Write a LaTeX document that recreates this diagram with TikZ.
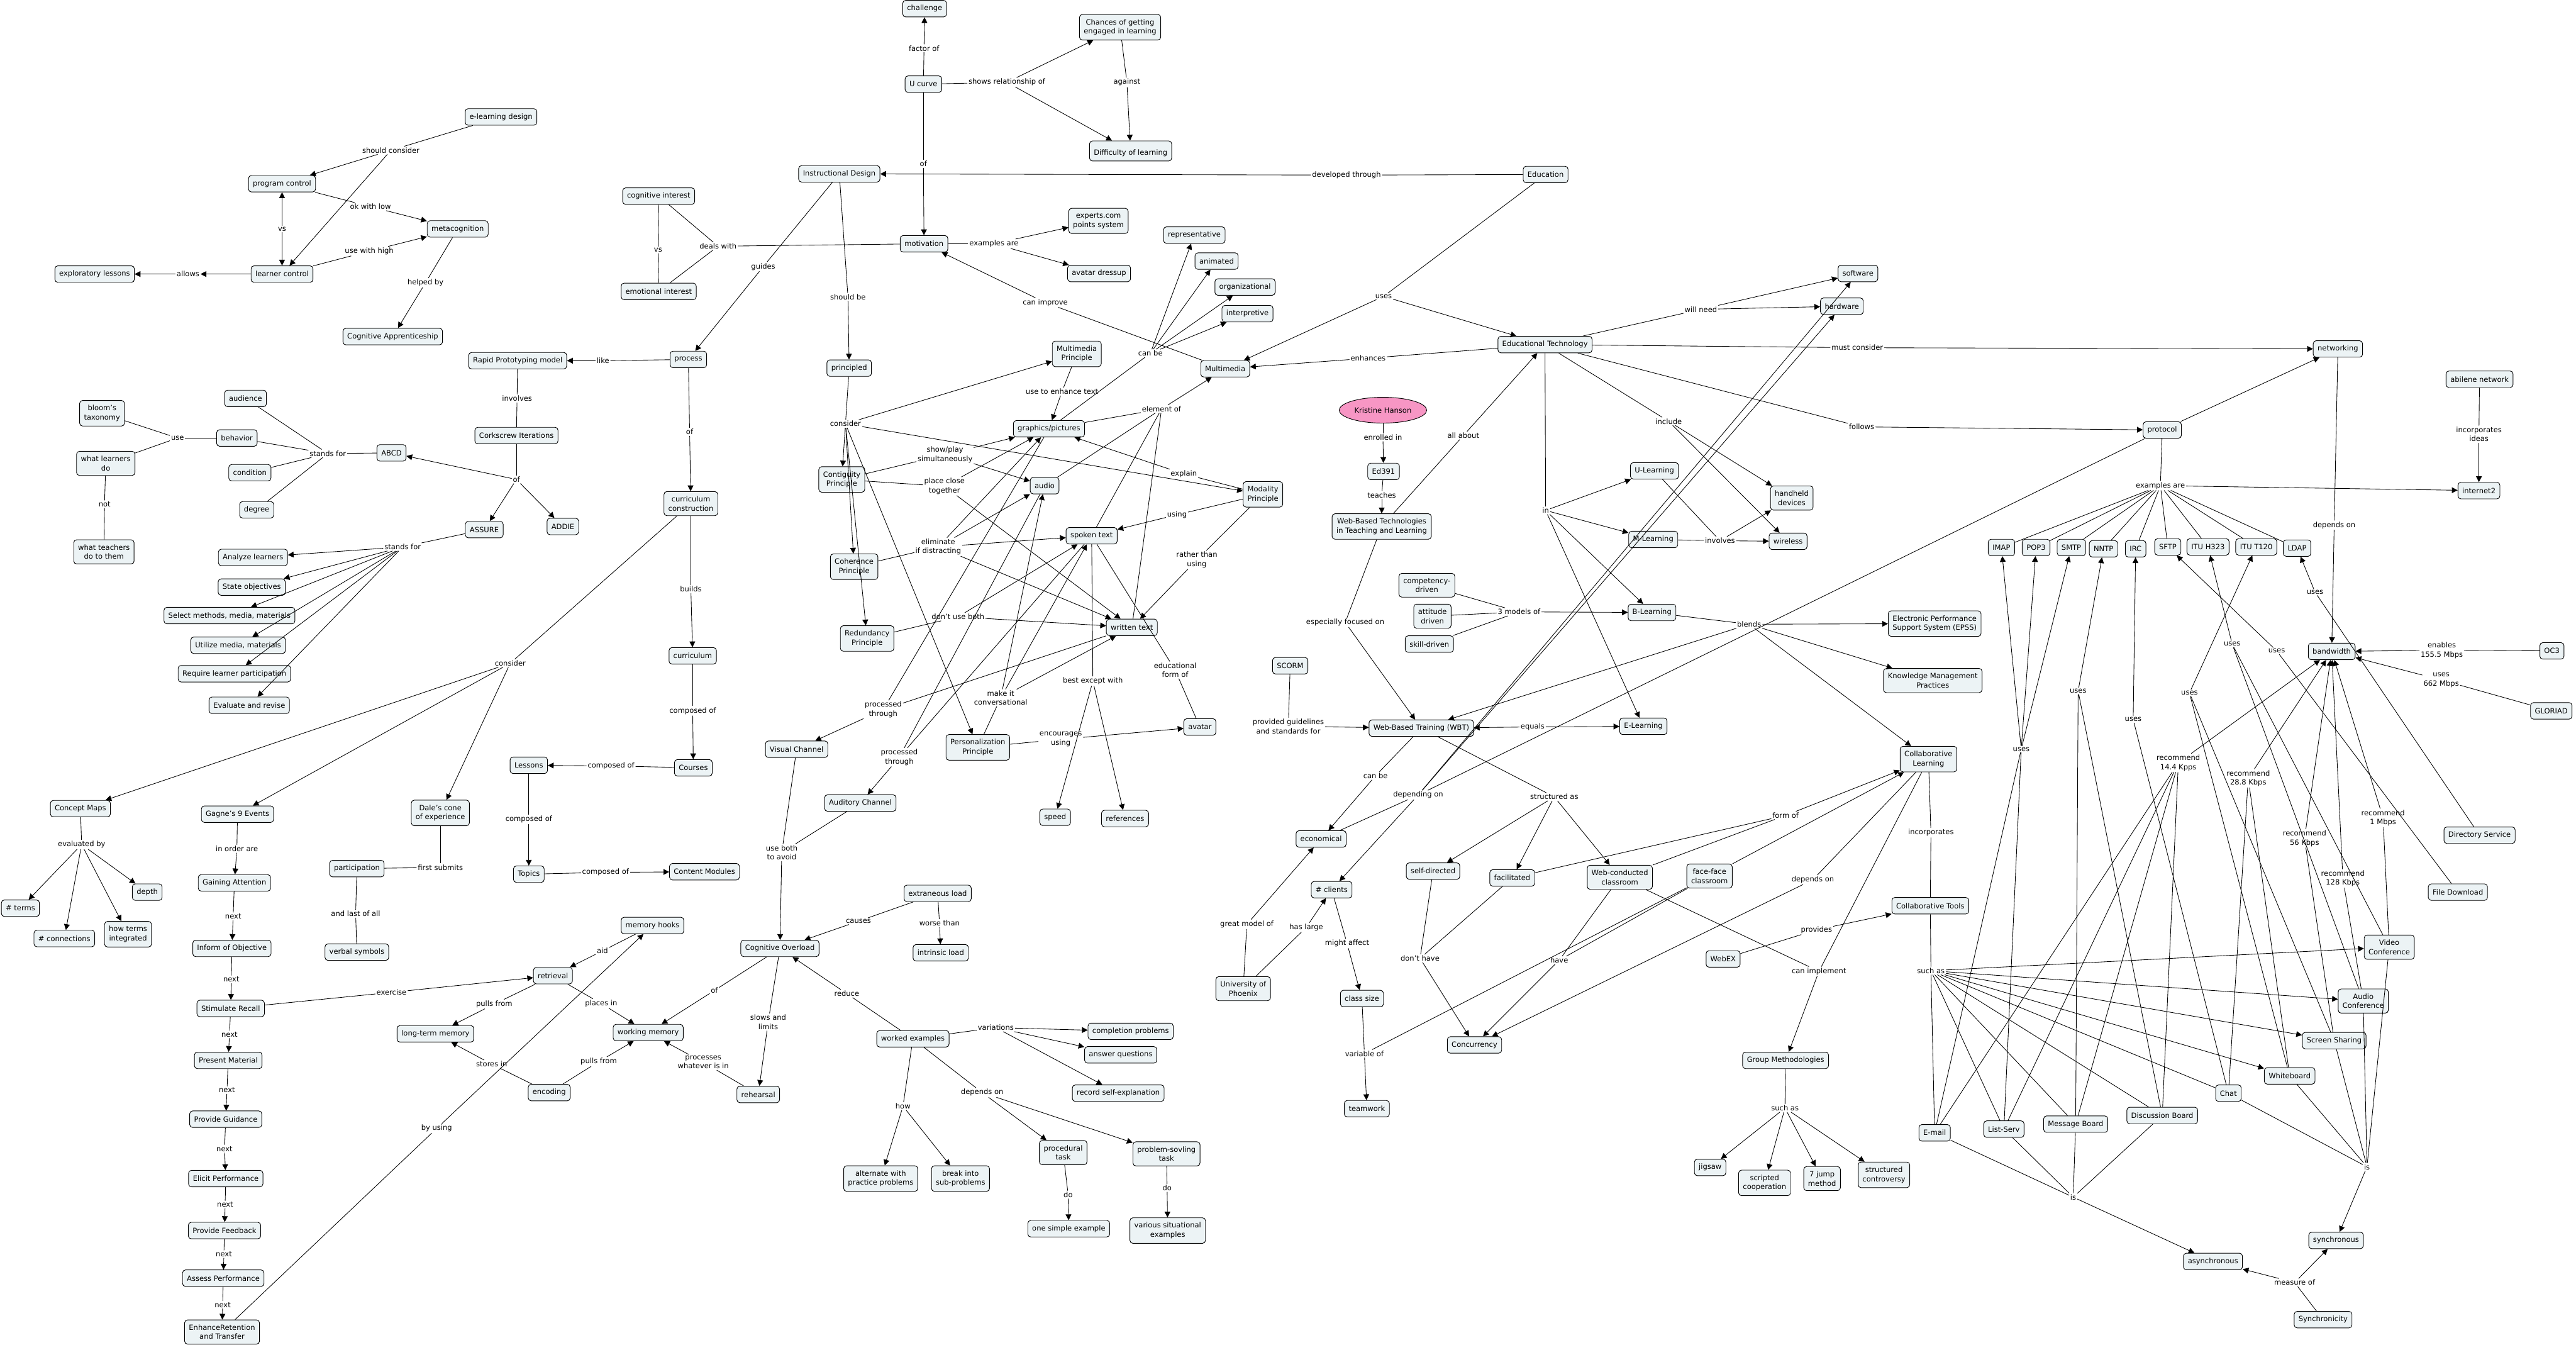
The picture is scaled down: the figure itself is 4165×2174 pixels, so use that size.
\documentclass[tikz,border=0pt]{standalone}
\usepackage{fontspec}
\setmainfont{DejaVu Sans}
\usepackage{tikz}
\usetikzlibrary{arrows.meta,shapes.geometric}
\definecolor{cfill}{RGB}{236,243,245}
\definecolor{cpink}{RGB}{247,150,196}

\begin{document}
\begin{tikzpicture}[
x=0.03cm,
y=-0.03cm,
every node/.style={font=\fontsize{10}{12.6}\selectfont},
cconcept/.style={rectangle,rounded corners=4pt,draw,line width=0.8pt,fill=cfill,align=center,inner xsep=6pt,inner ysep=6.5pt,minimum height=0.8cm},
cperson/.style={ellipse,draw,line width=0.8pt,fill=cpink,minimum width=3.3cm,minimum height=1.25cm},
clink/.style={align=center,inner sep=1.5pt},
cline/.style={draw,line width=0.75pt},
carrow/.style={cline,-{Triangle[length=8pt,width=8pt]}}
]
\useasboundingbox (0,0) rectangle (4165,2174);

\node[cconcept] (challenge) at (1495,14) {challenge};
\node[cconcept] (chances) at (1811,44) {Chances of getting\\engaged in learning};
\node[cconcept] (ucurve) at (1493,136) {U curve};
\node[cconcept] (difficulty) at (1828,244) {\mbox{}\\Difficulty of learning};
\node[cconcept] (instr) at (1357,281) {Instructional Design};
\node[cconcept] (education) at (2499,282) {Education};
\node[cconcept] (elearndesign) at (810,189) {e-learning design};
\node[cconcept] (progctrl) at (456,297) {program control};
\node[cconcept] (metacog) at (740,370) {metacognition};
\node[cconcept] (learnctrl) at (456,443) {learner control};
\node[cconcept] (explor) at (153,443) {exploratory lessons};
\node[cconcept] (cogapp) at (635,544) {Cognitive Apprenticeship};
\node[cconcept] (coginterest) at (1065,317) {cognitive interest};
\node[cconcept] (emointerest) at (1065,471) {emotional interest};
\node[cconcept] (motivation) at (1494,394) {motivation};
\node[cconcept] (experts) at (1776,357) {experts.com\\points system};
\node[cconcept] (avatardress) at (1777,442) {avatar dressup};
\node[cconcept] (represent) at (1931,380) {representative};
\node[cconcept] (animated) at (1967,422) {animated};
\node[cconcept] (organiz) at (2013,464) {organizational};
\node[cconcept] (interpret) at (2017,507) {interpretive};
\node[cconcept] (multimedia) at (1981,596) {Multimedia};
\node[cconcept] (mmprinciple) at (1741,572) {Multimedia\\Principle};
\node[cconcept] (software) at (3004,442) {software};
\node[cconcept] (hardware) at (2978,495) {hardware};
\node[cconcept] (edtech) at (2498,557) {Educational Technology};
\node[cconcept] (networking) at (3780,564) {networking};
\node[cconcept] (abilene) at (4009,613) {abilene network};
\node[cconcept] (protocol) at (3496,695) {protocol};
\node[cconcept] (internet2) at (4008,793) {internet2};
\node[cconcept] (rapid) at (837,583) {Rapid Prototyping model};
\node[cconcept] (process) at (1113,581) {process};
\node[cconcept] (principled) at (1373,595) {principled};
\node[cconcept] (corkscrew) at (835,704) {Corkscrew Iterations};
\node[cconcept] (graphics) at (1696,693) {graphics/pictures};
\node[cperson] (kristine) at (2236,663) {Kristine Hanson};
\node[cconcept] (bloom) at (165,668) {bloom's\\taxonomy};
\node[cconcept] (audience) at (397,644) {audience};
\node[cconcept] (behavior) at (383,708) {behavior};
\node[cconcept] (abcd) at (633,732) {ABCD};
\node[cconcept] (wlearners) at (171,749) {what learners\\do};
\node[cconcept] (condition) at (404,764) {condition};
\node[cconcept] (degree) at (415,824) {degree};
\node[cconcept] (assure) at (783,856) {ASSURE};
\node[cconcept] (addie) at (910,851) {ADDIE};
\node[cconcept] (wteachers) at (168,892) {what teachers\\do to them};
\node[cconcept] (analyze) at (409,901) {Analyze learners};
\node[cconcept] (stateobj) at (407,949) {State objectives};
\node[cconcept] (selectm) at (371,995) {Select methods, media, materials};
\node[cconcept] (utilize) at (385,1043) {Utilize media, materials};
\node[cconcept] (require) at (379,1089) {Require learner participation};
\node[cconcept] (evaluate) at (403,1140) {Evaluate and revise};
\node[cconcept] (contiguity) at (1361,775) {Contiguity\\Principle};
\node[cconcept] (audio) at (1689,785) {audio};
\node[cconcept] (modality) at (2042,799) {Modality\\Principle};
\node[cconcept] (currcons) at (1117,814) {curriculum\\construction};
\node[cconcept] (spoken) at (1765,866) {spoken text};
\node[cconcept] (coherence) at (1381,916) {Coherence\\Principle};
\node[cconcept] (written) at (1830,1014) {written text};
\node[cconcept] (redundancy) at (1402,1032) {Redundancy\\Principle};
\node[cconcept] (curriculum) at (1120,1060) {curriculum};
\node[cconcept] (avatar) at (1940,1175) {avatar};
\node[cconcept] (personal) at (1581,1208) {Personalization\\Principle};
\node[cconcept] (visual) at (1288,1211) {Visual Channel};
\node[cconcept] (courses) at (1121,1241) {Courses};
\node[cconcept] (auditory) at (1391,1298) {Auditory Channel};
\node[cconcept] (speed) at (1706,1321) {speed};
\node[cconcept] (references) at (1819,1323) {references};
\node[cconcept] (contentmod) at (1139,1409) {Content Modules};
\node[cconcept] (lessons) at (855,1237) {Lessons};
\node[cconcept] (conceptmaps) at (130,1307) {Concept Maps};
\node[cconcept] (gagne) at (384,1316) {Gagne's 9 Events};
\node[cconcept] (dale) at (712,1314) {Dale's cone\\of experience};
\node[cconcept] (participation) at (577,1404) {participation};
\node[cconcept] (topics) at (855,1413) {Topics};
\node[cconcept] (gaining) at (379,1427) {Gaining Attention};
\node[cconcept] (depth) at (238,1442) {depth};
\node[cconcept] (nterms) at (33,1468) {\# terms};
\node[cconcept] (nconn) at (104,1517) {\# connections};
\node[cconcept] (howterms) at (207,1510) {how terms\\integrated};
\node[cconcept] (verbal) at (577,1539) {verbal symbols};
\node[cconcept] (inform) at (375,1533) {Inform of Objective};
\node[cconcept] (memhooks) at (1055,1496) {memory hooks};
\node[cconcept] (retrieval) at (894,1577) {retrieval};
\node[cconcept] (stimulate) at (373,1630) {Stimulate Recall};
\node[cconcept] (ltm) at (704,1671) {long-term memory};
\node[cconcept] (workmem) at (1048,1669) {working memory};
\node[cconcept] (present) at (369,1714) {Present Material};
\node[cconcept] (encoding) at (888,1766) {encoding};
\node[cconcept] (guidance) at (365,1809) {Provide Guidance};
\node[cconcept] (elicit) at (365,1905) {Elicit Performance};
\node[cconcept] (feedback) at (363,1989) {Provide Feedback};
\node[cconcept] (assess) at (361,2066) {Assess Performance};
\node[cconcept] (enhance) at (359,2153) {EnhanceRetention\\and Transfer};
\node[cconcept] (cogover) at (1261,1533) {Cognitive Overload};
\node[cconcept] (extraneous) at (1516,1444) {extraneous load};
\node[cconcept] (intrinsic) at (1521,1540) {intrinsic load};
\node[cconcept] (uphoenix) at (2010,1598) {University of\\Phoenix};
\node[cconcept] (rehearsal) at (1226,1769) {rehearsal};
\node[cconcept] (worked) at (1476,1679) {worked examples};
\node[cconcept] (completion) at (1828,1667) {completion problems};
\node[cconcept] (answer) at (1812,1705) {answer questions};
\node[cconcept] (record) at (1808,1767) {record self-explanation};
\node[cconcept] (procedural) at (1719,1863) {procedural\\task};
\node[cconcept] (problemsolv) at (1886,1865) {problem-sovling\\task};
\node[cconcept] (alternate) at (1424,1905) {alternate with\\practice problems};
\node[cconcept] (breakinto) at (1553,1905) {break into\\sub-problems};
\node[cconcept] (onesimple) at (1728,1986) {one simple example};
\node[cconcept] (various) at (1888,1989) {various situational\\examples};
\node[cconcept] (ed391) at (2237,762) {Ed391};
\node[cconcept] (ulearn) at (2675,761) {U-Learning};
\node[cconcept] (handheld) at (2897,805) {handheld\\devices};
\node[cconcept] (wbtech) at (2234,851) {Web-Based Technologies\\in Teaching and Learning};
\node[cconcept] (mlearn) at (2673,872) {M-Learning};
\node[cconcept] (wireless) at (2891,875) {wireless};
\node[cconcept] (competency) at (2307,946) {competency-\\driven};
\node[cconcept] (attitude) at (2316,996) {attitude\\driven};
\node[cconcept] (blearn) at (2671,990) {B-Learning};
\node[cconcept] (epss) at (3128,1008) {Electronic Performance\\Support System (EPSS)};
\node[cconcept] (skill) at (2311,1041) {skill-driven};
\node[cconcept] (scorm) at (2086,1076) {SCORM};
\node[cconcept] (wbt) at (2298,1177) {Web-Based Training (WBT)};
\node[cconcept] (elearning) at (2657,1174) {E-Learning};
\node[cconcept] (km) at (3125,1100) {Knowledge Management\\Practices};
\node[cconcept] (collab) at (3118,1227) {Collaborative\\Learning};
\node[cconcept] (economical) at (2136,1356) {economical};
\node[cconcept] (selfdir) at (2317,1408) {self-directed};
\node[cconcept] (facilitated) at (2445,1419) {facilitated};
\node[cconcept] (webcond) at (2619,1418) {Web-conducted\\classroom};
\node[cconcept] (facetoface) at (2764,1416) {face-face\\classroom};
\node[cconcept] (nclients) at (2153,1438) {\# clients};
\node[cconcept] (classsize) at (2202,1614) {class size};
\node[cconcept] (teamwork) at (2210,1792) {teamwork};
\node[cconcept] (concurrency) at (2384,1689) {Concurrency};
\node[cconcept] (webex) at (2786,1550) {WebEX};
\node[cconcept] (groupmeth) at (2887,1714) {Group Methodologies};
\node[cconcept] (jigsaw) at (2765,1887) {jigsaw};
\node[cconcept] (scripted) at (2853,1912) {scripted\\cooperation};
\node[cconcept] (sevenjump) at (2946,1905) {7 jump\\method};
\node[cconcept] (structured) at (3046,1899) {structured\\controversy};
\node[cconcept] (imap) at (3236,885) {IMAP};
\node[cconcept] (pop3) at (3292,885) {POP3};
\node[cconcept] (smtp) at (3349,885) {SMTP};
\node[cconcept] (nntp) at (3401,887) {NNTP};
\node[cconcept] (irc) at (3453,887) {IRC};
\node[cconcept] (sftp) at (3505,884) {SFTP};
\node[cconcept] (ituh) at (3570,884) {ITU H323};
\node[cconcept] (itut) at (3648,884) {ITU T120};
\node[cconcept] (ldap) at (3714,886) {LDAP};
\node[cconcept] (bandwidth) at (3770,1053) {bandwidth};
\node[cconcept] (oc3) at (4126,1052) {OC3};
\node[cconcept] (gloriad) at (4125,1149) {GLORIAD};
\node[cconcept] (dirservice) at (4009,1350) {Directory Service};
\node[cconcept] (filedl) at (3974,1442) {File Download};
\node[cconcept] (collabtools) at (3121,1464) {Collaborative Tools};
\node[cconcept] (videoconf) at (3863,1531) {Video\\Conference};
\node[cconcept] (audioconf) at (3821,1618) {Audio\\Conference};
\node[cconcept] (screenshare) at (3774,1682) {Screen Sharing};
\node[cconcept] (whiteboard) at (3702,1739) {Whiteboard};
\node[cconcept] (chat) at (3603,1767) {Chat};
\node[cconcept] (discussion) at (3496,1803) {Discussion Board};
\node[cconcept] (msgboard) at (3356,1817) {Message Board};
\node[cconcept] (listserv) at (3240,1825) {List-Serv};
\node[cconcept] (email) at (3128,1831) {E-mail};
\node[cconcept] (synchronous) at (3777,2005) {synchronous};
\node[cconcept] (asynchronous) at (3578,2039) {asynchronous};
\node[cconcept] (synchronicity) at (3756,2133) {Synchronicity};

\node[clink] (lfactor) at (1494,78) {factor of};
\node[clink] (lshows) at (1628,133) {shows relationship of};
\node[clink] (lagainst) at (1822,133) {against};
\node[clink] (lof1) at (1493,265) {of};
\node[clink] (ldevel) at (2177,283) {developed through};
\node[clink] (lshould) at (632,243) {should consider};
\node[clink] (lokwith) at (599,334) {ok with low};
\node[clink] (lvs1) at (456,370) {vs};
\node[clink] (lusewith) at (597,406) {use with high};
\node[clink] (lallows) at (304,443) {allows};
\node[clink] (lhelped) at (688,457) {helped by};
\node[clink] (llike) at (975,583) {like};
\node[clink] (linvolves1) at (836,644) {involves};
\node[clink] (lvs2) at (1064,404) {vs};
\node[clink] (ldeals) at (1161,398) {deals with};
\node[clink] (lguides) at (1234,431) {guides};
\node[clink] (lexamples1) at (1607,394) {examples are};
\node[clink] (lshouldbe) at (1371,480) {should be};
\node[clink] (lcanimprove) at (1690,489) {can improve};
\node[clink] (lcanbe1) at (1860,571) {can be};
\node[clink] (lenhtext) at (1717,633) {use to enhance text};
\node[clink] (lconsider1) at (1367,685) {consider};
\node[clink] (lelement) at (1878,661) {element of};
\node[clink] (lof2) at (1115,698) {of};
\node[clink] (luses1) at (2237,479) {uses};
\node[clink] (lwillneed) at (2750,500) {will need};
\node[clink] (lenhances) at (2212,579) {enhances};
\node[clink] (lmustcons) at (3003,562) {must consider};
\node[clink] (linclude) at (2698,681) {include};
\node[clink] (lfollows) at (3010,690) {follows};
\node[clink] (lallabout) at (2366,704) {all about};
\node[clink] (lenrolled) at (2236,707) {enrolled in};
\node[clink] (lincorp1) at (4008,702) {incorporates\\ideas};
\node[clink] (luse) at (287,708) {use};
\node[clink] (lstands1) at (530,733) {stands for};
\node[clink] (lnot) at (169,815) {not};
\node[clink] (lof3) at (835,775) {of};
\node[clink] (lstands2) at (651,884) {stands for};
\node[clink] (lconsider2) at (825,1072) {consider};
\node[clink] (lcomp1) at (988,1238) {composed of};
\node[clink] (lcomp2) at (855,1324) {composed of};
\node[clink] (lcomp3) at (979,1410) {composed of};
\node[clink] (levaluated) at (132,1365) {evaluated by};
\node[clink] (linorder) at (383,1372) {in order are};
\node[clink] (lfirst) at (712,1402) {first submits};
\node[clink] (llast) at (575,1477) {and last of all};
\node[clink] (lshowplay) at (1528,735) {show/play\\simultaneously};
\node[clink] (lplace) at (1527,786) {place close\\together};
\node[clink] (lexplain) at (1914,766) {explain};
\node[clink] (lusing) at (1903,832) {using};
\node[clink] (leliminate) at (1517,884) {eliminate\\if distracting};
\node[clink] (lrather) at (1935,905) {rather than\\using};
\node[clink] (lbuilds) at (1117,952) {builds};
\node[clink] (ldontuse) at (1549,997) {don't use both};
\node[clink] (leduform) at (1900,1083) {educational\\form of};
\node[clink] (lbestexc) at (1767,1101) {best except with};
\node[clink] (lconvers) at (1618,1128) {make it\\conversational};
\node[clink] (lproc1) at (1428,1147) {processed\\through};
\node[clink] (lcomp0) at (1120,1149) {composed of};
\node[clink] (lencour) at (1715,1195) {encourages\\using};
\node[clink] (lproc2) at (1454,1224) {processed\\through};
\node[clink] (lusboth) at (1264,1378) {use both\\to avoid};
\node[clink] (lteaches) at (2234,800) {teaches};
\node[clink] (lin) at (2499,825) {in};
\node[clink] (linvolves2) at (2781,874) {involves};
\node[clink] (lmodels) at (2456,989) {3 models of};
\node[clink] (lblends) at (2828,1009) {blends};
\node[clink] (lfocused) at (2175,1006) {especially focused on};
\node[clink] (lprovided) at (2083,1174) {provided guidelines\\and standards for};
\node[clink] (lequals) at (2478,1175) {equals};
\node[clink] (lcanbe2) at (2224,1254) {can be};
\node[clink] (ldepending) at (2293,1285) {depending on};
\node[clink] (lstructured) at (2513,1288) {structured as};
\node[clink] (lformof) at (2887,1318) {form of};
\node[clink] (lincorp2) at (3122,1346) {incorporates};
\node[clink] (ldepends1) at (2931,1422) {depends on};
\node[clink] (lhaslarge) at (2112,1499) {has large};
\node[clink] (lmight) at (2178,1525) {might affect};
\node[clink] (ldonthave) at (2296,1549) {don't have};
\node[clink] (lhave) at (2521,1552) {have};
\node[clink] (lprovides) at (2937,1503) {provides};
\node[clink] (lcanimpl) at (2941,1570) {can implement};
\node[clink] (lvariable) at (2206,1703) {variable of};
\node[clink] (lsuchas1) at (2886,1791) {such as};
\node[clink] (lexamples2) at (3493,785) {examples are};
\node[clink] (ldepends2) at (3774,849) {depends on};
\node[clink] (lusesldap) at (3743,957) {uses};
\node[clink] (lusesh323) at (3609,1041) {uses};
\node[clink] (lusessftp) at (3681,1052) {uses};
\node[clink] (lenables) at (3948,1051) {enables\\155.5 Mbps};
\node[clink] (luses662) at (3947,1099) {uses\\662 Mbps};
\node[clink] (lusesnntp) at (3360,1117) {uses};
\node[clink] (lusest120) at (3540,1120) {uses};
\node[clink] (lusesirc) at (3449,1163) {uses};
\node[clink] (lusesmail) at (3268,1211) {uses};
\node[clink] (lrec14) at (3522,1233) {recommend\\14.4 Kpps};
\node[clink] (lrec28) at (3635,1258) {recommend\\28.8 Kbps};
\node[clink] (lrec1m) at (3853,1322) {recommend\\1 Mbps};
\node[clink] (lrec56) at (3726,1355) {recommend\\56 Kbps};
\node[clink] (lrec128) at (3788,1420) {recommend\\128 Kbps};
\node[clink] (lsuchas2) at (3122,1569) {such as};
\node[clink] (lisasync) at (3352,1935) {is};
\node[clink] (lissync) at (3827,1886) {is};
\node[clink] (lmeasure) at (3710,2073) {measure of};
\node[clink] (lnext1) at (377,1481) {next};
\node[clink] (lnext2) at (374,1583) {next};
\node[clink] (lnext3) at (371,1672) {next};
\node[clink] (lnext4) at (367,1762) {next};
\node[clink] (lnext5) at (363,1857) {next};
\node[clink] (lnext6) at (364,1947) {next};
\node[clink] (lnext7) at (362,2027) {next};
\node[clink] (lnext8) at (360,2109) {next};
\node[clink] (laid) at (974,1537) {aid};
\node[clink] (lexercise) at (633,1604) {exercise};
\node[clink] (lpulls1) at (799,1623) {pulls from};
\node[clink] (lplaces) at (972,1622) {places in};
\node[clink] (lstores) at (795,1720) {stores in};
\node[clink] (lpulls2) at (968,1716) {pulls from};
\node[clink] (lbyusing) at (706,1824) {by using};
\node[clink] (lcauses) at (1388,1489) {causes};
\node[clink] (lworse) at (1519,1492) {worse than};
\node[clink] (lgreat) at (2016,1494) {great model of};
\node[clink] (lof4) at (1155,1601) {of};
\node[clink] (lreduce) at (1369,1606) {reduce};
\node[clink] (lslows) at (1242,1652) {slows and\\limits};
\node[clink] (lvariations) at (1610,1661) {variations};
\node[clink] (lprocesses) at (1137,1717) {processes\\whatever is in};
\node[clink] (ldepends3) at (1588,1766) {depends on};
\node[clink] (lhow) at (1460,1788) {how};
\node[clink] (ldo1) at (1727,1931) {do};
\node[clink] (ldo2) at (1887,1920) {do};

\draw[cline] (ucurve) -- (lfactor); \draw[carrow] (lfactor) -- (challenge);
\draw[cline] (ucurve) -- (lshows); \draw[carrow] (lshows) -- (chances); \draw[carrow] (lshows) -- (difficulty);
\draw[cline] (chances) -- (lagainst); \draw[carrow] (lagainst) -- (difficulty);
\draw[cline] (ucurve) -- (lof1); \draw[carrow] (lof1) -- (motivation);
\draw[cline] (education) -- (ldevel); \draw[carrow] (ldevel) -- (instr);
\draw[cline] (elearndesign) -- (lshould); \draw[carrow] (lshould) -- (progctrl); \draw[carrow] (lshould) -- (learnctrl);
\draw[cline] (progctrl) -- (lokwith); \draw[carrow] (lokwith) -- (metacog);
\draw[carrow] (lvs1) -- (progctrl); \draw[carrow] (lvs1) -- (learnctrl);
\draw[cline] (learnctrl) -- (lusewith); \draw[carrow] (lusewith) -- (metacog);
\draw[carrow] (learnctrl) -- (lallows); \draw[carrow] (lallows) -- (explor);
\draw[cline] (metacog) -- (lhelped); \draw[carrow] (lhelped) -- (cogapp);
\draw[cline] (process) -- (llike); \draw[carrow] (llike) -- (rapid);
\draw[cline] (rapid) -- (linvolves1); \draw[cline] (linvolves1) -- (corkscrew);
\draw[cline] (corkscrew) -- (lof3); \draw[carrow] (lof3) -- (abcd); \draw[carrow] (lof3) -- (assure); \draw[carrow] (lof3) -- (addie);
\draw[cline] (abcd) -- (lstands1); \draw[cline] (lstands1) -- (audience); \draw[cline] (lstands1) -- (behavior); \draw[cline] (lstands1) -- (condition); \draw[cline] (lstands1) -- (degree);
\draw[cline] (behavior) -- (luse); \draw[cline] (luse) -- (bloom); \draw[cline] (luse) -- (wlearners);
\draw[cline] (wlearners) -- (lnot); \draw[cline] (lnot) -- (wteachers);
\draw[cline] (assure) -- (lstands2); \draw[carrow] (lstands2) -- (analyze); \draw[carrow] (lstands2) -- (stateobj); \draw[carrow] (lstands2) -- (selectm);
\draw[carrow] (lstands2) -- (utilize); \draw[carrow] (lstands2) -- (require); \draw[carrow] (lstands2) -- (evaluate);
\draw[cline] (coginterest) -- (lvs2); \draw[cline] (lvs2) -- (emointerest);
\draw[cline] (coginterest) -- (ldeals); \draw[cline] (emointerest) -- (ldeals); \draw[cline] (ldeals) -- (motivation);
\draw[cline] (instr) -- (lguides); \draw[carrow] (lguides) -- (process);
\draw[cline] (instr) -- (lshouldbe); \draw[carrow] (lshouldbe) -- (principled);
\draw[cline] (motivation) -- (lexamples1); \draw[carrow] (lexamples1) -- (experts); \draw[carrow] (lexamples1) -- (avatardress);
\draw[cline] (multimedia) -- (lcanimprove); \draw[carrow] (lcanimprove) -- (motivation);
\draw[cline] (graphics) -- (lcanbe1); \draw[carrow] (lcanbe1) -- (represent); \draw[carrow] (lcanbe1) -- (animated); \draw[carrow] (lcanbe1) -- (organiz); \draw[carrow] (lcanbe1) -- (interpret);
\draw[cline] (mmprinciple) -- (lenhtext); \draw[carrow] (lenhtext) -- (graphics);
\draw[cline] (principled) -- (lconsider1); \draw[carrow] (lconsider1) -- (mmprinciple); \draw[carrow] (lconsider1) -- (contiguity); \draw[carrow] (lconsider1) -- (coherence);
\draw[carrow] (lconsider1) -- (redundancy); \draw[carrow] (lconsider1) -- (personal); \draw[carrow] (lconsider1) -- (modality);
\draw[cline] (graphics) -- (lelement); \draw[cline] (audio) -- (lelement); \draw[cline] (spoken) -- (lelement); \draw[cline] (written) -- (lelement); \draw[carrow] (lelement) -- (multimedia);
\draw[cline] (process) -- (lof2); \draw[carrow] (lof2) -- (currcons);
\draw[cline] (education) -- (luses1); \draw[carrow] (luses1) -- (edtech); \draw[carrow] (luses1) -- (multimedia);
\draw[cline] (edtech) -- (lwillneed); \draw[carrow] (lwillneed) -- (software); \draw[carrow] (lwillneed) -- (hardware);
\draw[cline] (edtech) -- (lenhances); \draw[carrow] (lenhances) -- (multimedia);
\draw[cline] (edtech) -- (lmustcons); \draw[carrow] (lmustcons) -- (networking);
\draw[cline] (edtech) -- (linclude); \draw[carrow] (linclude) -- (handheld); \draw[carrow] (linclude) -- (wireless);
\draw[cline] (edtech) -- (lfollows); \draw[carrow] (lfollows) -- (protocol);
\draw[cline] (kristine) -- (lenrolled); \draw[carrow] (lenrolled) -- (ed391);
\draw[cline] (wbtech) -- (lallabout); \draw[carrow] (lallabout) -- (edtech);
\draw[cline] (abilene) -- (lincorp1); \draw[carrow] (lincorp1) -- (internet2);
\draw[carrow] (protocol) -- (networking);
\draw[cline] (protocol) -- (lexamples2); \draw[carrow] (lexamples2) -- (internet2);
\draw[cline] (lexamples2) -- (imap); \draw[cline] (lexamples2) -- (pop3); \draw[cline] (lexamples2) -- (smtp); \draw[cline] (lexamples2) -- (nntp); \draw[cline] (lexamples2) -- (irc);
\draw[cline] (lexamples2) -- (sftp); \draw[cline] (lexamples2) -- (ituh); \draw[cline] (lexamples2) -- (itut); \draw[cline] (lexamples2) -- (ldap);
\draw[cline] (networking) -- (ldepends2); \draw[carrow] (ldepends2) -- (bandwidth);

\draw[cline] (contiguity) -- (lshowplay); \draw[carrow] (lshowplay) -- (graphics); \draw[carrow] (lshowplay) -- (audio);
\draw[cline] (contiguity) -- (lplace); \draw[carrow] (lplace) -- (graphics); \draw[carrow] (lplace) -- (written);
\draw[cline] (modality) -- (lexplain); \draw[carrow] (lexplain) -- (graphics);
\draw[cline] (modality) -- (lusing); \draw[carrow] (lusing) -- (spoken);
\draw[cline] (modality) -- (lrather); \draw[carrow] (lrather) -- (written);
\draw[cline] (coherence) -- (leliminate); \draw[carrow] (leliminate) -- (graphics); \draw[carrow] (leliminate) -- (audio); \draw[carrow] (leliminate) -- (spoken); \draw[carrow] (leliminate) -- (written);
\draw[cline] (redundancy) -- (ldontuse); \draw[carrow] (ldontuse) -- (spoken); \draw[carrow] (ldontuse) -- (written);
\draw[cline] (avatar) -- (leduform); \draw[cline] (leduform) -- (spoken);
\draw[cline] (spoken) -- (lbestexc); \draw[carrow] (lbestexc) -- (speed); \draw[carrow] (lbestexc) -- (references);
\draw[cline] (personal) -- (lconvers); \draw[carrow] (lconvers) -- (audio); \draw[carrow] (lconvers) -- (spoken); \draw[carrow] (lconvers) -- (written);
\draw[cline] (personal) -- (lencour); \draw[carrow] (lencour) -- (avatar);
\draw[cline] (graphics) -- (lproc1); \draw[cline] (written) -- (lproc1); \draw[carrow] (lproc1) -- (visual);
\draw[cline] (audio) -- (lproc2); \draw[cline] (spoken) -- (lproc2); \draw[carrow] (lproc2) -- (auditory);
\draw[cline] (visual) -- (lusboth); \draw[cline] (auditory) -- (lusboth); \draw[carrow] (lusboth) -- (cogover);
\draw[cline] (currcons) -- (lbuilds); \draw[carrow] (lbuilds) -- (curriculum);
\draw[cline] (curriculum) -- (lcomp0); \draw[carrow] (lcomp0) -- (courses);
\draw[cline] (currcons) -- (lconsider2); \draw[carrow] (lconsider2) -- (conceptmaps); \draw[carrow] (lconsider2) -- (gagne); \draw[carrow] (lconsider2) -- (dale);
\draw[cline] (courses) -- (lcomp1); \draw[carrow] (lcomp1) -- (lessons);
\draw[cline] (lessons) -- (lcomp2); \draw[carrow] (lcomp2) -- (topics);
\draw[cline] (topics) -- (lcomp3); \draw[carrow] (lcomp3) -- (contentmod);
\draw[cline] (conceptmaps) -- (levaluated); \draw[carrow] (levaluated) -- (nterms); \draw[carrow] (levaluated) -- (nconn); \draw[carrow] (levaluated) -- (howterms); \draw[carrow] (levaluated) -- (depth);
\draw[cline] (gagne) -- (linorder); \draw[carrow] (linorder) -- (gaining);
\draw[cline] (dale) -- (lfirst); \draw[cline] (lfirst) -- (participation);
\draw[cline] (participation) -- (llast); \draw[cline] (llast) -- (verbal);
\draw[cline] (gaining) -- (lnext1); \draw[carrow] (lnext1) -- (inform);
\draw[cline] (inform) -- (lnext2); \draw[carrow] (lnext2) -- (stimulate);
\draw[cline] (stimulate) -- (lnext3); \draw[carrow] (lnext3) -- (present);
\draw[cline] (present) -- (lnext4); \draw[carrow] (lnext4) -- (guidance);
\draw[cline] (guidance) -- (lnext5); \draw[carrow] (lnext5) -- (elicit);
\draw[cline] (elicit) -- (lnext6); \draw[carrow] (lnext6) -- (feedback);
\draw[cline] (feedback) -- (lnext7); \draw[carrow] (lnext7) -- (assess);
\draw[cline] (assess) -- (lnext8); \draw[carrow] (lnext8) -- (enhance);
\draw[cline] (memhooks) -- (laid); \draw[carrow] (laid) -- (retrieval);
\draw[cline] (stimulate) -- (lexercise); \draw[carrow] (lexercise) -- (retrieval);
\draw[cline] (retrieval) -- (lpulls1); \draw[carrow] (lpulls1) -- (ltm);
\draw[cline] (retrieval) -- (lplaces); \draw[carrow] (lplaces) -- (workmem);
\draw[cline] (encoding) -- (lstores); \draw[carrow] (lstores) -- (ltm);
\draw[cline] (encoding) -- (lpulls2); \draw[carrow] (lpulls2) -- (workmem);
\draw[cline] (enhance) -- (lbyusing); \draw[carrow] (lbyusing) -- (memhooks);
\draw[cline] (extraneous) -- (lcauses); \draw[carrow] (lcauses) -- (cogover);
\draw[cline] (extraneous) -- (lworse); \draw[carrow] (lworse) -- (intrinsic);
\draw[cline] (cogover) -- (lof4); \draw[carrow] (lof4) -- (workmem);
\draw[cline] (cogover) -- (lslows); \draw[carrow] (lslows) -- (rehearsal);
\draw[cline] (worked) -- (lreduce); \draw[carrow] (lreduce) -- (cogover);
\draw[cline] (rehearsal) -- (lprocesses); \draw[carrow] (lprocesses) -- (workmem);
\draw[cline] (worked) -- (lvariations); \draw[carrow] (lvariations) -- (completion); \draw[carrow] (lvariations) -- (answer); \draw[carrow] (lvariations) -- (record);
\draw[cline] (worked) -- (lhow); \draw[carrow] (lhow) -- (alternate); \draw[carrow] (lhow) -- (breakinto);
\draw[cline] (worked) -- (ldepends3); \draw[carrow] (ldepends3) -- (procedural); \draw[carrow] (ldepends3) -- (problemsolv);
\draw[cline] (procedural) -- (ldo1); \draw[carrow] (ldo1) -- (onesimple);
\draw[cline] (problemsolv) -- (ldo2); \draw[carrow] (ldo2) -- (various);

\draw[cline] (uphoenix) -- (lgreat); \draw[carrow] (lgreat) -- (economical);
\draw[cline] (uphoenix) -- (lhaslarge); \draw[carrow] (lhaslarge) -- (nclients);
\draw[cline] (ed391) -- (lteaches); \draw[carrow] (lteaches) -- (wbtech);
\draw[cline] (edtech) -- (lin); \draw[carrow] (lin) -- (ulearn); \draw[carrow] (lin) -- (mlearn); \draw[carrow] (lin) -- (blearn); \draw[carrow] (lin) -- (elearning);
\draw[cline] (ulearn) -- (linvolves2); \draw[cline] (mlearn) -- (linvolves2); \draw[carrow] (linvolves2) -- (wireless); \draw[carrow] (linvolves2) -- (handheld);
\draw[cline] (competency) -- (lmodels); \draw[cline] (attitude) -- (lmodels); \draw[cline] (skill) -- (lmodels); \draw[carrow] (lmodels) -- (blearn);
\draw[cline] (blearn) -- (lblends); \draw[carrow] (lblends) -- (epss); \draw[carrow] (lblends) -- (km); \draw[carrow] (lblends) -- (collab); \draw[carrow] (lblends) -- (wbt);
\draw[cline] (wbtech) -- (lfocused); \draw[carrow] (lfocused) -- (wbt);
\draw[cline] (scorm) -- (lprovided); \draw[carrow] (lprovided) -- (wbt);
\draw[carrow] (lequals) -- (wbt); \draw[carrow] (lequals) -- (elearning);
\draw[cline] (wbt) -- (lcanbe2); \draw[carrow] (lcanbe2) -- (economical);
\draw[cline] (economical) -- (ldepending); \draw[cline] (protocol) -- (ldepending);
\draw[carrow] (ldepending) -- (nclients); \draw[carrow] (ldepending) -- (hardware); \draw[carrow] (ldepending) -- (software);
\draw[cline] (wbt) -- (lstructured); \draw[carrow] (lstructured) -- (selfdir); \draw[carrow] (lstructured) -- (facilitated); \draw[carrow] (lstructured) -- (webcond);
\draw[cline] (facilitated) -- (lformof); \draw[cline] (webcond) -- (lformof); \draw[carrow] (lformof) -- (collab);
\draw[carrow] (facetoface) -- (collab);
\draw[cline] (collab) -- (lincorp2); \draw[cline] (lincorp2) -- (collabtools);
\draw[cline] (collab) -- (ldepends1); \draw[carrow] (ldepends1) -- (concurrency);
\draw[cline] (nclients) -- (lmight); \draw[carrow] (lmight) -- (classsize);
\draw[cline] (selfdir) -- (ldonthave); \draw[cline] (facilitated) -- (ldonthave); \draw[carrow] (ldonthave) -- (concurrency);
\draw[cline] (webcond) -- (lhave); \draw[cline] (facetoface) -- (lhave); \draw[carrow] (lhave) -- (concurrency);
\draw[cline] (webex) -- (lprovides); \draw[carrow] (lprovides) -- (collabtools);
\draw[cline] (collab) -- (lcanimpl); \draw[cline] (webcond) -- (lcanimpl); \draw[carrow] (lcanimpl) -- (groupmeth);
\draw[cline] (classsize) -- (lvariable); \draw[carrow] (lvariable) -- (teamwork); \draw[cline] (lvariable) -- (facetoface);
\draw[cline] (groupmeth) -- (lsuchas1); \draw[carrow] (lsuchas1) -- (jigsaw); \draw[carrow] (lsuchas1) -- (scripted); \draw[carrow] (lsuchas1) -- (sevenjump); \draw[carrow] (lsuchas1) -- (structured);

\draw[cline] (oc3) -- (lenables); \draw[carrow] (lenables) -- (bandwidth);
\draw[cline] (gloriad) -- (luses662); \draw[carrow] (luses662) -- (bandwidth);
\draw[cline] (dirservice) -- (lusesldap); \draw[carrow] (lusesldap) -- (ldap);
\draw[cline] (filedl) -- (lusessftp); \draw[carrow] (lusessftp) -- (sftp);
\draw[cline] (videoconf) -- (lusesh323); \draw[cline] (audioconf) -- (lusesh323); \draw[carrow] (lusesh323) -- (ituh);
\draw[cline] (whiteboard) -- (lusest120); \draw[cline] (screenshare) -- (lusest120); \draw[carrow] (lusest120) -- (itut);
\draw[cline] (chat) -- (lusesirc); \draw[carrow] (lusesirc) -- (irc);
\draw[cline] (msgboard) -- (lusesnntp); \draw[cline] (discussion) -- (lusesnntp); \draw[carrow] (lusesnntp) -- (nntp);
\draw[cline] (email) -- (lusesmail); \draw[cline] (listserv) -- (lusesmail); \draw[carrow] (lusesmail) -- (imap); \draw[carrow] (lusesmail) -- (pop3); \draw[carrow] (lusesmail) -- (smtp);
\draw[cline] (email) -- (lrec14); \draw[cline] (listserv) -- (lrec14); \draw[cline] (msgboard) -- (lrec14); \draw[cline] (discussion) -- (lrec14); \draw[carrow] (lrec14) -- (bandwidth);
\draw[cline] (chat) -- (lrec28); \draw[cline] (whiteboard) -- (lrec28); \draw[carrow] (lrec28) -- (bandwidth);
\draw[cline] (screenshare) -- (lrec56); \draw[carrow] (lrec56) -- (bandwidth);
\draw[cline] (audioconf) -- (lrec128); \draw[carrow] (lrec128) -- (bandwidth);
\draw[cline] (videoconf) -- (lrec1m); \draw[carrow] (lrec1m) -- (bandwidth);
\draw[cline] (collabtools) -- (lsuchas2); \draw[carrow] (lsuchas2) -- (videoconf); \draw[carrow] (lsuchas2) -- (audioconf); \draw[carrow] (lsuchas2) -- (screenshare); \draw[carrow] (lsuchas2) -- (whiteboard);
\draw[cline] (lsuchas2) -- (chat); \draw[cline] (lsuchas2) -- (discussion); \draw[cline] (lsuchas2) -- (msgboard); \draw[cline] (lsuchas2) -- (listserv); \draw[cline] (lsuchas2) -- (email);
\draw[cline] (email) -- (lisasync); \draw[cline] (listserv) -- (lisasync); \draw[cline] (msgboard) -- (lisasync); \draw[cline] (discussion) -- (lisasync); \draw[carrow] (lisasync) -- (asynchronous);
\draw[cline] (chat) -- (lissync); \draw[cline] (whiteboard) -- (lissync); \draw[cline] (screenshare) -- (lissync); \draw[cline] (audioconf) -- (lissync); \draw[cline] (videoconf) -- (lissync); \draw[carrow] (lissync) -- (synchronous);
\draw[cline] (synchronicity) -- (lmeasure); \draw[carrow] (lmeasure) -- (asynchronous); \draw[carrow] (lmeasure) -- (synchronous);
\end{tikzpicture}
\end{document}
